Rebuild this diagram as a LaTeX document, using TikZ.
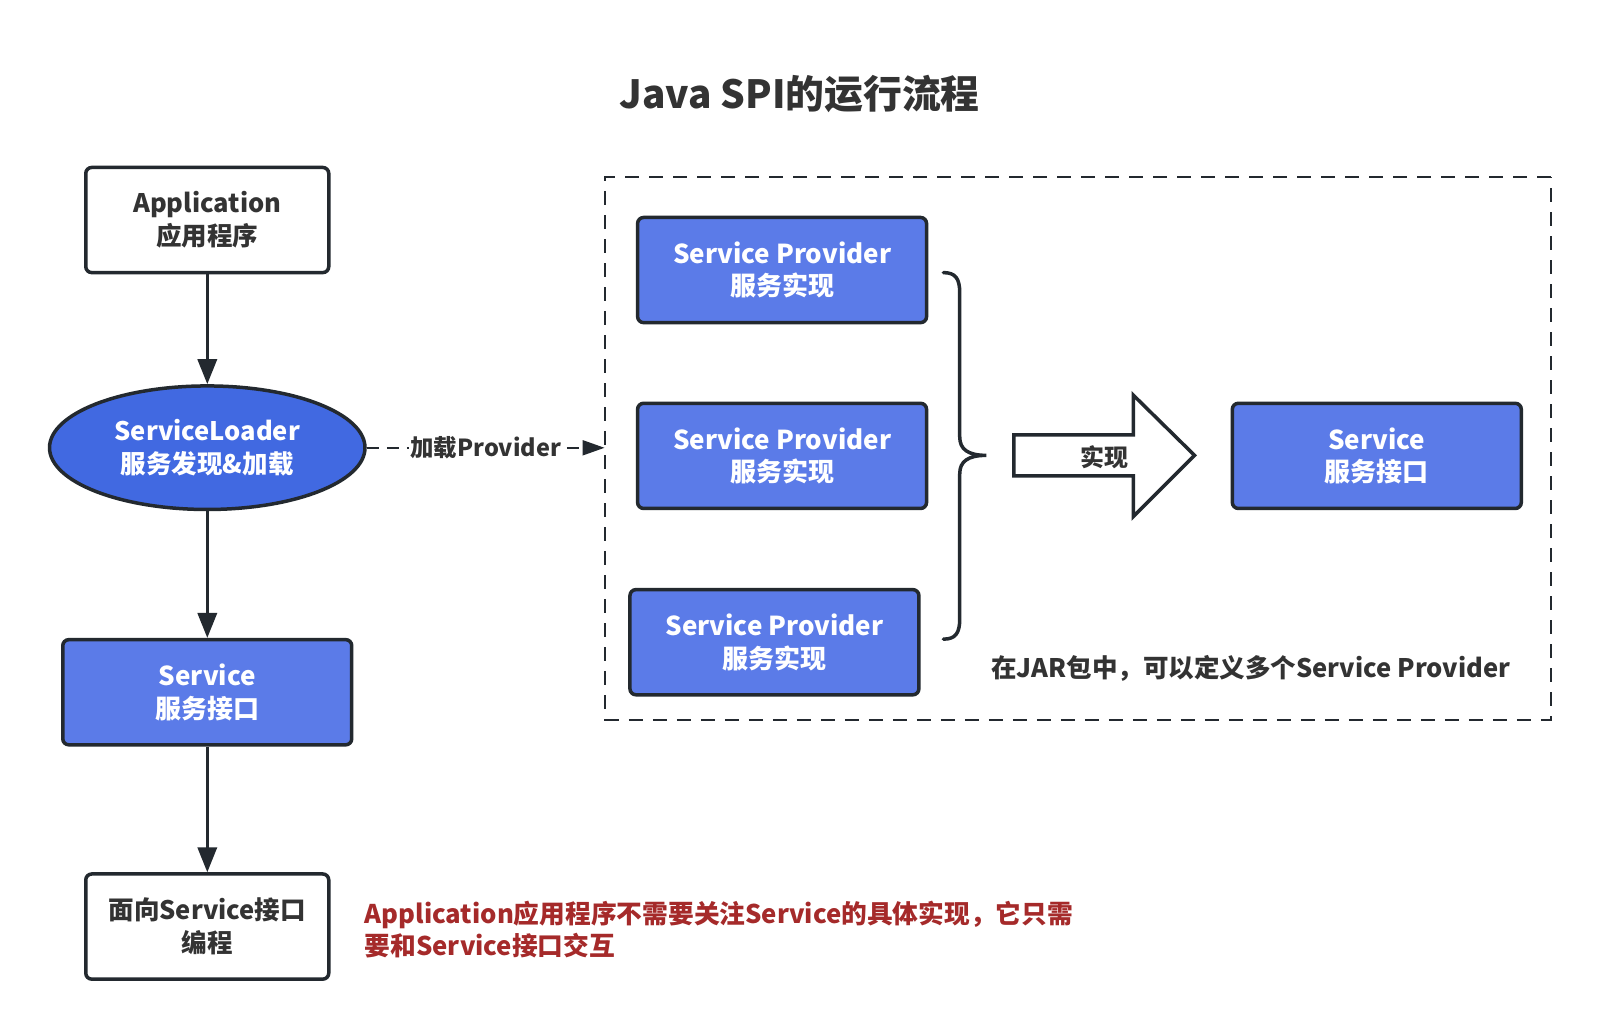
\documentclass[tikz,border=0pt]{standalone}
\usepackage{fontspec}
\setmainfont{Noto Sans CJK SC}
\usetikzlibrary{arrows.meta,shapes.geometric}
\definecolor{ink}{HTML}{23292F}
\definecolor{royal}{HTML}{4169E1}
\definecolor{corn}{HTML}{5B7BE8}
\definecolor{txt}{HTML}{333333}
\definecolor{note}{HTML}{A52A2A}
\newcommand{\fsz}[1]{\fontsize{#1}{32}\selectfont\bfseries}
\begin{document}
\begin{tikzpicture}[x=1pt,y=-1pt,scale=1.021,
  every node/.append style={transform shape},
  whitebox/.style={draw=ink, line width=3.5pt, rounded corners=6pt, fill=white,
    minimum width=238pt, minimum height=103pt, align=center, text=txt,
    font=\fsz{25}, inner sep=0pt},
  bluebox/.style={whitebox, fill=corn, text=white, minimum width=283pt, font=\fsz{25.5}},
  flowarrow/.style={draw=ink, line width=3.5pt, -{Triangle[length=25pt,width=19pt]}},
  dashedarrow/.style={draw=ink, line width=2pt, dash pattern=on 12pt off 8pt,
    -{Triangle[length=22pt,width=15pt]}},
  plainlabel/.style={text=txt, font=\fsz{25}, inner sep=1pt}
]
\useasboundingbox (0,0) rectangle (1567.1,1006.9);
\fill[white] (0,0) rectangle (1567.1,1006.9);

\node[text=txt, font=\fsz{38}] (title) at (783,92) {Java SPI的运行流程};

% left column
\node[whitebox] (app) at (203,215.5) {Application\\应用程序};
\node[ellipse, draw=ink, line width=3.5pt, fill=royal, text=white, font=\fsz{25},
  minimum width=309pt, minimum height=121pt, inner sep=0pt, align=center]
  (loader) at (203,438.5) {ServiceLoader\\服务发现\&加载};
\node[bluebox] (svcL) at (203,678) {Service\\服务接口};
\node[whitebox] (prog) at (203,907.5) {面向Service接口\\编程};

\draw[flowarrow] (app.south) -- (loader.north);
\draw[flowarrow] (loader.south) -- (svcL.north);
\draw[flowarrow] (svcL.south) -- (prog.north);

\node[anchor=north west, align=left, text=note, font=\fsz{25.2}, inner sep=0pt]
  (remark) at (357,882) {Application应用程序不需要关注Service的具体实现，它只需\\要和Service接口交互};

% dashed container
\node[draw=ink, line width=2pt, dash pattern=on 14pt off 10pt,
  minimum width=926pt, minimum height=532pt, inner sep=0pt] (jar) at (1056,439) {};

\draw[dashedarrow] (loader.east) -- node[fill=white, plainlabel, font=\fsz{23}] (loadlbl) {加载Provider} (jar.west |- loader.east);

\node[bluebox] (sp1) at (766,264.5) {Service Provider\\服务实现};
\node[bluebox] (sp2) at (766,446.5) {Service Provider\\服务实现};
\node[bluebox] (sp3) at (758.5,629) {Service Provider\\服务实现};
\node[bluebox] (svcR) at (1348.5,446.5) {Service\\服务接口};

% brace
\draw[ink, line width=3.5pt, line cap=round]
  (924,267) .. controls (936,267) and (940,273) .. (940,287) -- (940,428)
  .. controls (940,440) and (948,446) .. (966,446)
  .. controls (948,446) and (940,452) .. (940,464) -- (940,606)
  .. controls (940,620) and (936,626) .. (924,626);

% block arrow
\draw[ink, line width=3.5pt, fill=white, line join=miter]
  (993,426) -- (1110,426) -- (1110,387) -- (1170,446) -- (1110,506) -- (1110,466) -- (993,466) -- cycle;
\node[plainlabel, font=\fsz{23.5}] (impl) at (1082,448) {实现};

\node[plainlabel] (jarnote) at (1225,655) {在JAR包中，可以定义多个Service Provider};
\end{tikzpicture}
\end{document}
